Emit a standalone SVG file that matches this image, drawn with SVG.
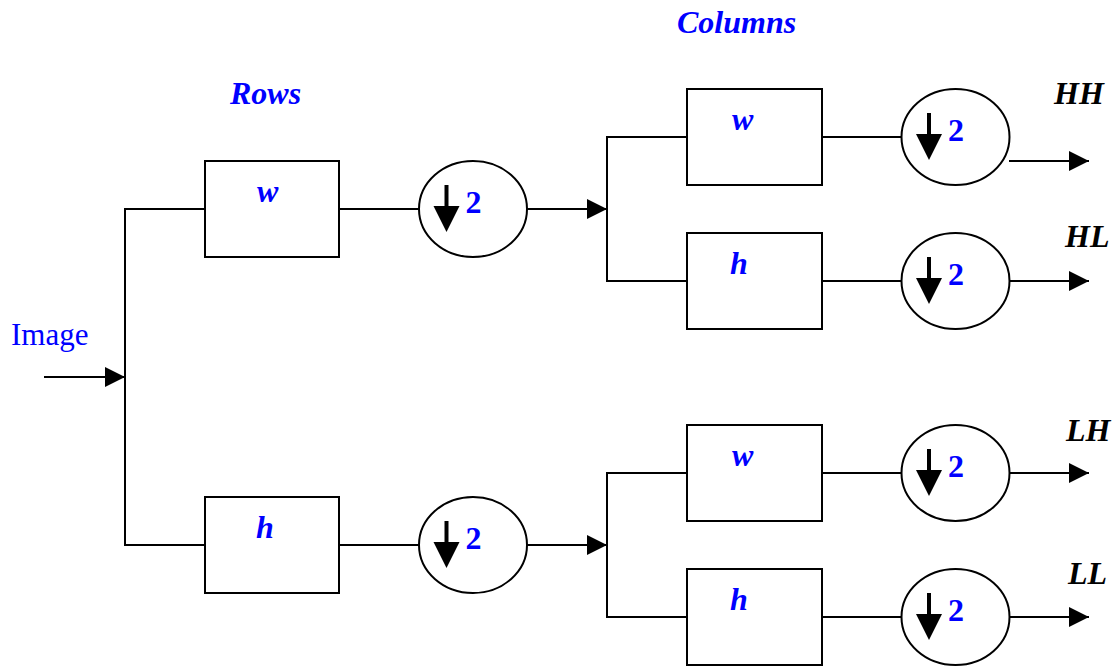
<svg xmlns="http://www.w3.org/2000/svg" xmlns:xlink="http://www.w3.org/1999/xlink" width="1117" height="666" viewBox="0 0 1117 666">
  <style>
    .box { fill: #ffffff; stroke: #000000; stroke-width: 2; }
    .ds { fill: #ffffff; stroke: #000000; stroke-width: 2; }
    .wire { fill: none; stroke: #000000; stroke-width: 2; }
    .lbl { font-family: "Liberation Serif", "Times New Roman", serif; font-size: 32px; font-weight: bold; font-style: italic; fill: #0000ff; }
    .num { font-family: "Liberation Serif", "Times New Roman", serif; font-size: 32px; font-weight: bold; fill: #0000ff; }
    .out { font-family: "Liberation Serif", "Times New Roman", serif; font-size: 32px; font-weight: bold; font-style: italic; fill: #000000; }
    .inp { font-family: "Liberation Serif", "Times New Roman", serif; font-size: 31px; fill: #0000ff; }
  </style>
  <defs>
    <marker id="arrow" markerUnits="userSpaceOnUse" markerWidth="20" markerHeight="20" refX="20" refY="10" orient="auto">
      <path d="M0,0 L20,10 L0,20 Z" fill="#000000"/>
    </marker>
    <!-- downsampling glyph: down arrow, drawn relative to the circle centre -->
    <g id="down">
      <line x1="-26.5" y1="-24" x2="-26.5" y2="-2" stroke="#000000" stroke-width="4"/>
      <polygon points="-39.5,-3 -13.5,-3 -26.5,23" fill="#000000"/>
    </g>
  </defs>
  <rect width="1117" height="666" fill="#ffffff"/>

  <!-- section titles -->
  <text class="lbl" x="230" y="104">Rows</text>
  <text class="lbl" x="677" y="33">Columns</text>
  <text class="inp" x="11" y="345">Image</text>

  <!-- connectors -->
  <g id="connectors">
    <line class="wire" x1="44" y1="377" x2="125" y2="377" marker-end="url(#arrow)"/>
    <polyline class="wire" points="205,209 125,209 125,545 205,545"/>
    <line class="wire" x1="339" y1="209" x2="419" y2="209"/>
    <line class="wire" x1="339" y1="545" x2="419" y2="545"/>
    <line class="wire" x1="527" y1="209" x2="607" y2="209" marker-end="url(#arrow)"/>
    <line class="wire" x1="527" y1="545" x2="607" y2="545" marker-end="url(#arrow)"/>
    <polyline class="wire" points="687,137 607,137 607,281 687,281"/>
    <polyline class="wire" points="687,473 607,473 607,617 687,617"/>
    <line class="wire" x1="822" y1="137" x2="902" y2="137"/>
    <line class="wire" x1="822" y1="281" x2="902" y2="281"/>
    <line class="wire" x1="822" y1="473" x2="902" y2="473"/>
    <line class="wire" x1="822" y1="617" x2="902" y2="617"/>
    <line class="wire" x1="1009" y1="161" x2="1089" y2="161" marker-end="url(#arrow)"/>
    <line class="wire" x1="1009" y1="281" x2="1089" y2="281" marker-end="url(#arrow)"/>
    <line class="wire" x1="1009" y1="473" x2="1089" y2="473" marker-end="url(#arrow)"/>
    <line class="wire" x1="1009" y1="617" x2="1089" y2="617" marker-end="url(#arrow)"/>
  </g>

  <!-- row filters -->
  <g id="row-w">
    <rect class="box" x="205" y="161" width="134" height="96"/>
    <text class="lbl" x="257" y="202">w</text>
  </g>
  <g id="row-h">
    <rect class="box" x="205" y="497" width="134" height="96"/>
    <text class="lbl" x="256" y="538">h</text>
  </g>

  <!-- row downsamplers -->
  <g id="row-ds-w" transform="translate(473,209)">
    <ellipse class="ds" cx="0" cy="0" rx="54" ry="48"/>
    <use xlink:href="#down"/>
    <text class="num" x="-7.5" y="4">2</text>
  </g>
  <g id="row-ds-h" transform="translate(473,545)">
    <ellipse class="ds" cx="0" cy="0" rx="54" ry="48"/>
    <use xlink:href="#down"/>
    <text class="num" x="-7.5" y="4">2</text>
  </g>

  <!-- column filters -->
  <g id="col-ww">
    <rect class="box" x="687" y="89" width="135" height="96"/>
    <text class="lbl" x="732" y="130">w</text>
  </g>
  <g id="col-wh">
    <rect class="box" x="687" y="233" width="135" height="96"/>
    <text class="lbl" x="730" y="274">h</text>
  </g>
  <g id="col-hw">
    <rect class="box" x="687" y="425" width="135" height="96"/>
    <text class="lbl" x="732" y="466">w</text>
  </g>
  <g id="col-hh">
    <rect class="box" x="687" y="569" width="135" height="96"/>
    <text class="lbl" x="730" y="610">h</text>
  </g>

  <!-- column downsamplers -->
  <g id="col-ds-hh" transform="translate(955.5,137)">
    <ellipse class="ds" cx="0" cy="0" rx="54" ry="48"/>
    <use xlink:href="#down"/>
    <text class="num" x="-7.5" y="4">2</text>
  </g>
  <g id="col-ds-hl" transform="translate(955.5,281)">
    <ellipse class="ds" cx="0" cy="0" rx="54" ry="48"/>
    <use xlink:href="#down"/>
    <text class="num" x="-7.5" y="4">2</text>
  </g>
  <g id="col-ds-lh" transform="translate(955.5,473)">
    <ellipse class="ds" cx="0" cy="0" rx="54" ry="48"/>
    <use xlink:href="#down"/>
    <text class="num" x="-7.5" y="4">2</text>
  </g>
  <g id="col-ds-ll" transform="translate(955.5,617)">
    <ellipse class="ds" cx="0" cy="0" rx="54" ry="48"/>
    <use xlink:href="#down"/>
    <text class="num" x="-7.5" y="4">2</text>
  </g>

  <!-- subband outputs -->
  <text class="out" x="1054" y="104">HH</text>
  <text class="out" x="1065" y="247">HL</text>
  <text class="out" x="1066" y="441">LH</text>
  <text class="out" x="1068" y="584">LL</text>
</svg>
